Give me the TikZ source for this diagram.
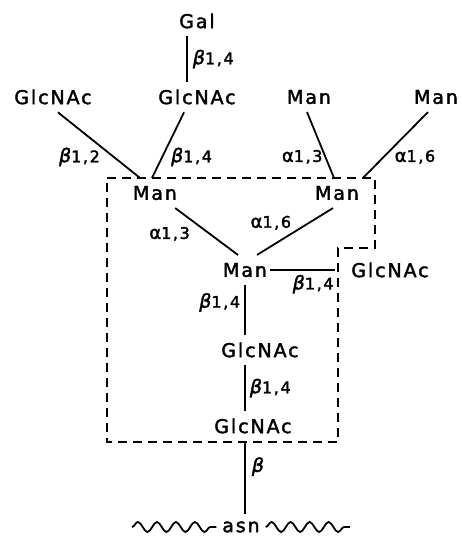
\documentclass[tikz,border=0pt]{standalone}
\usepackage{fontspec}
\setsansfont{DejaVu Sans}[LetterSpace=10, FakeBold=2]
\usepackage{tikz}
\usetikzlibrary{positioning,decorations.pathmorphing}

\newcommand{\bondb}{{\fontsize{19}{20}\selectfont\itshape β}}
\newcommand{\bonda}{{\fontsize{18}{20}\selectfont α}}

\begin{document}
\begin{tikzpicture}[
    x=1pt, y=-1pt,
    node distance=76pt,
    font=\sffamily,
    sugar/.style={
        font=\sffamily\fontsize{19}{21}\selectfont,
        inner xsep=0pt,
        inner ysep=5pt,
        outer sep=3pt
    },
    link/.style={
        line width=1.8pt
    },
    bond/.style={
        font=\sffamily\fontsize{16}{18}\selectfont,
        inner sep=1pt
    },
    core/.style={
        line width=1.8pt,
        dash pattern=on 9pt off 6pt
    },
    peptide/.style={
        line width=1.8pt,
        decorate,
        decoration={snake, segment length=19pt, amplitude=5pt}
    }
  ]

\useasboundingbox (0,0) rectangle (462,539);

% // outer arms
\node [sugar] (gal) at (197,21) {Gal};
\node [sugar, below of=gal] (glcB) {GlcNAc};
\node [sugar, left of=glcB, xshift=-68pt] (glcA) {GlcNAc};
\node [sugar, right of=glcB, xshift=36pt] (manT) {Man};
\node [sugar, right of=manT, xshift=51pt] (manR) {Man};

% // the core
\node [sugar, below of=glcB, xshift=-42pt, yshift=-20pt] (manA) {Man};
\node [sugar, below of=manT, xshift=28pt, yshift=-20pt] (manB) {Man};
\node [sugar, below of=manA, xshift=90pt, yshift=-1pt] (manC) {Man};
\node [sugar, right of=manC, xshift=69pt] (glcC) {GlcNAc};
\node [sugar, below of=manC, xshift=15pt, yshift=-4pt] (glcD) {GlcNAc};
\node [sugar, below of=glcD, xshift=-7pt] (glcE) {GlcNAc};
\node [sugar, below of=glcE, xshift=-12pt, yshift=-25pt] (asn) {asn};

% // peptide chain
\coordinate [left of=asn, xshift=-33pt] (chainL);
\coordinate [right of=asn, xshift=33pt] (chainR);
\draw [peptide] (chainL) -- ([xshift=-3pt]asn.west);
\draw [peptide] ([xshift=3pt]asn.east) -- (chainR);

\draw [core] (107,178) -- (375,178) -- (375,248) -- (338,248) -- (338,442) -- (107,442) -- cycle;

 \draw [link] ([xshift=-10pt]gal.south) -- node [bond, right=4pt] {\bondb1,4} ([xshift=-10pt]glcB.north);
 \draw [link] ([xshift=5pt]glcA.south) -- node [bond, pos=0.68, left=12pt] {\bondb1,2} ([xshift=-15pt]manA.north);
 \draw [link] ([xshift=-13pt]glcB.south) -- node [bond, pos=0.68, right=7pt] {\bondb1,4} ([xshift=-3pt]manA.north);
 \draw [link] ([xshift=-2pt]manT.south) -- node [bond, pos=0.68, left=1pt] {\bonda1,3} ([xshift=-3pt]manB.north);
 \draw [link] ([xshift=-8pt]manR.south) -- node [bond, pos=0.68, right=9pt] {\bonda1,6} ([xshift=26pt]manB.north);

 \draw [link] (manA) -- node [bond, pos=0.55, left=18pt] {\bonda1,3} ([xshift=-7pt]manC.north);
 \draw [link] ([xshift=-4pt]manB.south) -- node [bond, pos=0.5, anchor=south east, xshift=-2pt] {\bonda1,6} ([xshift=12pt]manC.north);
 \draw [link, shorten >=13pt] (manC) -- node [bond, below=3pt, xshift=4pt] {\bondb1,4} (glcC);

 \draw [link] (manC.south) -- node [bond, pos=0.35, left=3pt] {\bondb1,4} (manC.south |- glcD.north);
 \draw [link] (manC.south |- glcD.south) -- node [bond, right=3pt] {\bondb1,4} (manC.south |- glcE.north);
 \draw [link] (manC.south |- glcE.south) -- node [bond, pos=0.35, right=5pt] {\bondb} (manC.south |- asn.north);

\end{tikzpicture}
\end{document}
